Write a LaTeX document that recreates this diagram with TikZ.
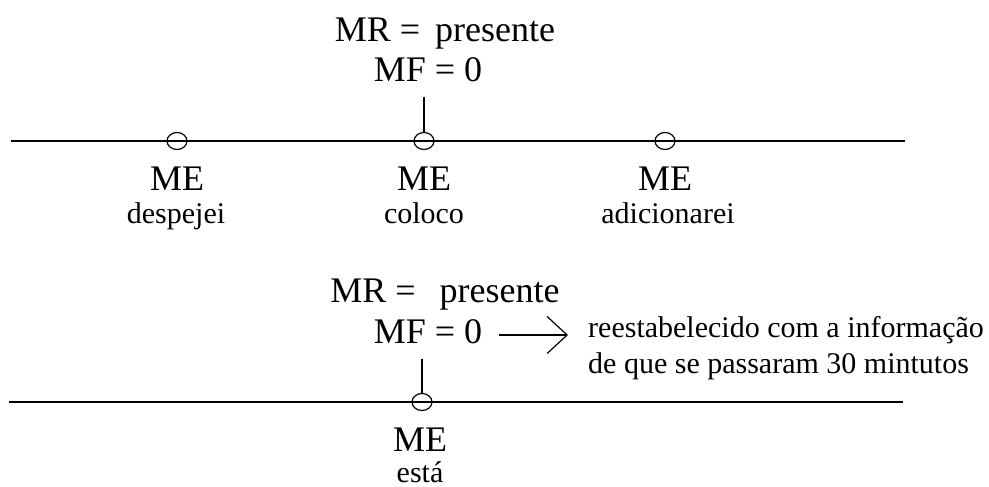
\documentclass[tikz,border=0pt]{standalone}
\usepackage{fontspec}
\setmainfont{Liberation Serif}
\usetikzlibrary{shapes.geometric,arrows.meta}
\begin{document}
\begin{tikzpicture}[x=1pt,y=-1pt,
  big/.style={font=\fontsize{36}{40}\selectfont, inner sep=0pt, anchor=base},
  small/.style={font=\fontsize{30}{36}\selectfont, inner sep=0pt, anchor=base},
  dot/.style={draw, ellipse, minimum width=20pt, minimum height=17pt, inner sep=0pt, line width=1.2pt},
  axis/.style={line width=1.4pt},
  tick/.style={line width=1.2pt},
  arr/.style={line width=1.2pt, -{Straight Barb[length=20pt,width=37pt,line width=1.2pt]}}
]
\useasboundingbox (0,0) rectangle (989,487);
% top timeline
\node[big] (mr1) at (445,42) {MR = \,presente};
\node[big] (mf1) at (428,82) {MF = 0};
\coordinate (l1s) at (11,141);
\coordinate (l1e) at (905,141);
\draw[axis] (l1s) -- (l1e);
\node[dot] (c1) at (177,141) {};
\node[dot] (c2) at (424,141) {};
\node[dot] (c3) at (665,141) {};
\coordinate (t1) at (424,97);
\draw[tick] (t1) -- (c2.north);
\node[big] (me1) at (177,190) {ME};
\node[big] (me2) at (424,190) {ME};
\node[big] (me3) at (665,190) {ME};
\node[small] (w1) at (176,223) {despejei};
\node[small] (w2) at (424,223) {coloco};
\node[small] (w3) at (668,223) {adicionarei};
% bottom timeline
\node[big] (mr2) at (445,302) {MR = \ \,presente};
\node[big] (mf2) at (428,343) {MF = 0};
\coordinate (a1) at (499,335);
\coordinate (a2) at (568,335);
\draw[arr] (a1) -- (a2);
\node[small, anchor=base west, align=left] (note) at (588,373) {reestabelecido com a informação\\de que se passaram 30 mintutos};
\coordinate (l2s) at (9,402);
\coordinate (l2e) at (903,402);
\draw[axis] (l2s) -- (l2e);
\node[dot] (c4) at (422,402) {};
\coordinate (t2) at (422,359);
\draw[tick] (t2) -- (c4.north);
\node[big] (me4) at (420,451) {ME};
\node[small] (w4) at (420,482) {está};
\end{tikzpicture}
\end{document}
